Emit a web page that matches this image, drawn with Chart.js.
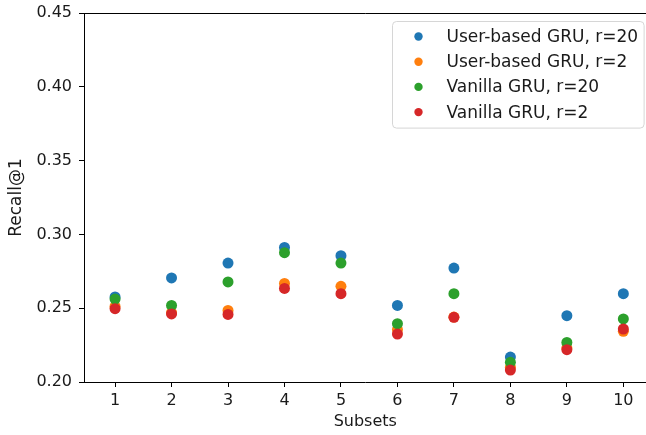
<!DOCTYPE html>
<html>
<head>
<meta charset="utf-8">
<script src="https://cdn.jsdelivr.net/npm/chart.js@4.4.1/dist/chart.umd.min.js"></script>
<style>
  html, body { margin: 0; padding: 0; background: #fff; overflow: hidden; }
  #wrap { width: 646px; height: 435px; overflow: hidden; }
  #c { display: block; }
</style>
</head>
<body>
<div id="wrap"><canvas id="c" width="652" height="435"></canvas></div>
<script>
// Recall@1 per subset for each model / rank setting
const subsets = [1, 2, 3, 4, 5, 6, 7, 8, 9, 10];
const userGru20 = [0.2576, 0.2705, 0.2806, 0.2912, 0.2856, 0.2519, 0.2772, 0.2169, 0.2449, 0.2598];
const userGru2  = [0.2512, 0.2470, 0.2485, 0.2668, 0.2648, 0.2354, 0.2440, 0.2100, 0.2230, 0.2343];
const vanilla20 = [0.2562, 0.2519, 0.2678, 0.2876, 0.2806, 0.2395, 0.2598, 0.2133, 0.2268, 0.2427];
const vanilla2  = [0.2497, 0.2461, 0.2458, 0.2634, 0.2598, 0.2325, 0.2438, 0.2081, 0.2219, 0.2359];
const yTicks = [0.20, 0.25, 0.30, 0.35, 0.40, 0.45];

const seriesNames = ['User-based GRU, r=20', 'User-based GRU, r=2', 'Vanilla GRU, r=20', 'Vanilla GRU, r=2'];
const seriesValues = [userGru20, userGru2, vanilla20, vanilla2];
const seriesColors = ['#1f77b4', '#ff7f0e', '#2ca02c', '#d62728'];

const FONT = 'DejaVu Sans';
const INK = '#1a1a1a';

const datasets = seriesValues.map((vals, i) => ({
  label: seriesNames[i],
  data: subsets.map((s, j) => ({ x: s, y: vals[j] })),
  backgroundColor: seriesColors[i],
  borderWidth: 0,
  pointRadius: 5.5,
  pointHoverRadius: 5.5,
  order: seriesValues.length - i
}));

// Top spine and an in-plot legend box in the upper right corner
const framePlugin = {
  id: 'frame',
  afterDraw(chart) {
    const ctx = chart.ctx;
    const a = chart.chartArea;
    ctx.save();
    ctx.strokeStyle = '#000';
    ctx.lineWidth = 1;
    ctx.beginPath();
    ctx.moveTo(a.left, Math.round(a.top) + 0.5);
    ctx.lineTo(a.right, Math.round(a.top) + 0.5);
    ctx.stroke();

    ctx.font = '17px "' + FONT + '"';
    const textW = Math.max(...seriesNames.map(n => ctx.measureText(n).width));
    const rowH = 25.2;
    const padL = 54, padR = 6, padT = 15, padB = 16;
    const w = padL + textW + padR;
    const h = padT + padB + rowH * (seriesNames.length - 1);
    const right = a.right - 3;
    const x0 = Math.round(right - w) + 0.5;
    const y0 = Math.round(a.top + 8) + 0.5;
    const r = 4;
    ctx.beginPath();
    ctx.moveTo(x0 + r, y0);
    ctx.lineTo(x0 + w - r, y0);
    ctx.arcTo(x0 + w, y0, x0 + w, y0 + r, r);
    ctx.lineTo(x0 + w, y0 + h - r);
    ctx.arcTo(x0 + w, y0 + h, x0 + w - r, y0 + h, r);
    ctx.lineTo(x0 + r, y0 + h);
    ctx.arcTo(x0, y0 + h, x0, y0 + h - r, r);
    ctx.lineTo(x0, y0 + r);
    ctx.arcTo(x0, y0, x0 + r, y0, r);
    ctx.closePath();
    ctx.fillStyle = 'rgba(255,255,255,0.8)';
    ctx.fill();
    ctx.strokeStyle = '#d6d6d6';
    ctx.stroke();

    ctx.textBaseline = 'middle';
    ctx.textAlign = 'left';
    seriesNames.forEach((name, i) => {
      const cy = y0 + padT + i * rowH;
      ctx.beginPath();
      ctx.arc(x0 + 26, cy, 4.2, 0, Math.PI * 2);
      ctx.fillStyle = seriesColors[i];
      ctx.fill();
      ctx.fillStyle = INK;
      ctx.fillText(name, x0 + padL, cy + 1);
    });
    ctx.restore();
  }
};

new Chart(document.getElementById('c'), {
  type: 'scatter',
  data: { datasets },
  plugins: [framePlugin],
  options: {
    responsive: false,
    devicePixelRatio: 1,
    animation: false,
    layout: { padding: { top: 13, right: 0, left: 0, bottom: 0 } },
    plugins: {
      legend: { display: false },
      tooltip: { enabled: false }
    },
    scales: {
      x: {
        type: 'linear',
        min: 0.45,
        max: 10.41,
        afterBuildTicks(scale) { scale.ticks = subsets.map(v => ({ value: v })); },
        afterFit(scale) {
          scale.height = 53;
          scale.paddingLeft = 0;
          scale.paddingRight = 0;
        },
        ticks: {
          includeBounds: false,
          color: INK,
          font: { family: FONT, size: 16 },
          padding: 4,
          maxRotation: 0,
          autoSkip: false
        },
        grid: { drawOnChartArea: false, drawTicks: true, tickLength: 5, color: '#000', tickWidth: 1 },
        border: { display: true, color: '#000', width: 1 },
        title: {
          display: true,
          text: 'Subsets',
          color: INK,
          font: { family: FONT, size: 16 },
          padding: { top: 0, bottom: 4 }
        }
      },
      y: {
        min: 0.20,
        max: 0.45,
        afterBuildTicks(scale) { scale.ticks = yTicks.map(v => ({ value: v })); },
        afterFit(scale) {
          scale.width = 84;
          scale.paddingTop = 0;
          scale.paddingBottom = 0;
        },
        ticks: {
          color: INK,
          font: { family: FONT, size: 16 },
          padding: 7,
          callback: v => v.toFixed(2)
        },
        grid: { drawOnChartArea: false, drawTicks: true, tickLength: 5, color: '#000', tickWidth: 1 },
        border: { display: true, color: '#000', width: 1 },
        title: {
          display: true,
          text: 'Recall@1',
          color: INK,
          font: { family: FONT, size: 17 },
          padding: { top: 6, bottom: 0 }
        }
      }
    }
  }
});
</script>
</body>
</html>
